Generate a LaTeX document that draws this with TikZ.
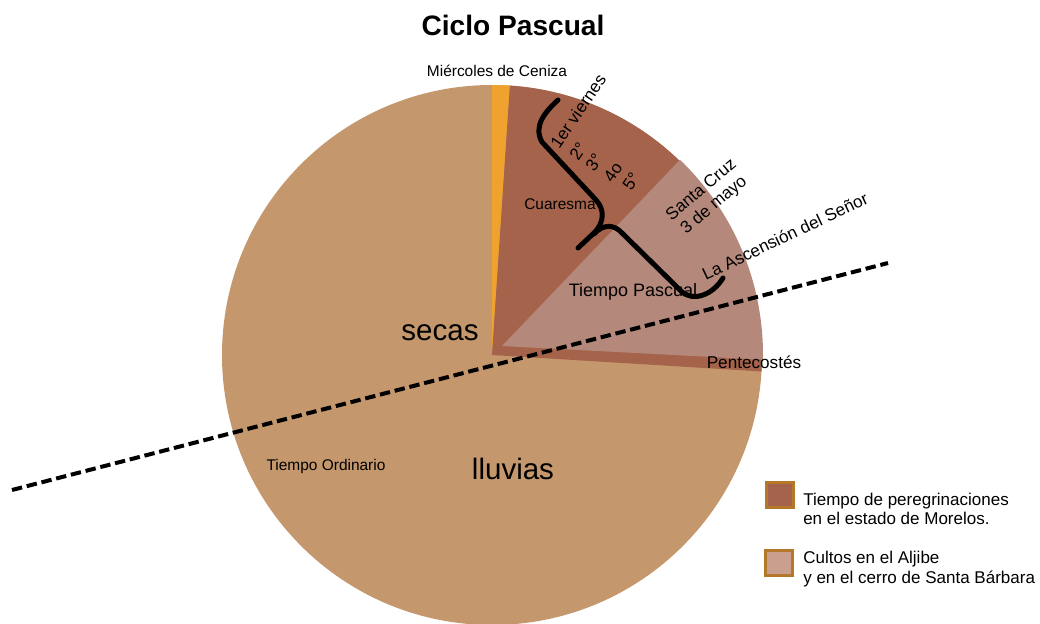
\documentclass[tikz,border=0pt]{standalone}
\usepackage{xcolor}
\usepackage{fontspec}
\setmainfont{Liberation Sans}
\usepackage{tikz}
\definecolor{ordinariocolor}{HTML}{C4976D}
\definecolor{cuaresmacolor}{HTML}{A5634C}
\definecolor{pascualcolor}{HTML}{B4887A}
\definecolor{cenizacolor}{HTML}{F0A22E}
\definecolor{bordecolor}{HTML}{B5782A}
\definecolor{cultoscolor}{HTML}{CA9F8E}

\tikzset{
  etiqueta/.style={inner sep=0pt, font=\fontsize{12.2pt}{14pt}\selectfont},
  etiquetachica/.style={inner sep=0pt, font=\fontsize{11pt}{13pt}\selectfont},
  temporada/.style={inner sep=0pt, font=\fontsize{21pt}{24pt}\selectfont},
  llave/.style={line width=0.125cm, line cap=round, line join=round},
  divisoria/.style={line width=0.1cm, dash pattern=on 0.26cm off 0.12cm},
  cuadro/.style={draw=bordecolor, line width=0.075cm, minimum width=0.68cm, minimum height=0.63cm, inner sep=0pt},
  leyenda/.style={anchor=west, align=left, inner sep=0pt, font=\fontsize{12.1pt}{14pt}\selectfont}
}

\begin{document}
\begin{tikzpicture}[x=0.025cm, y=0.025cm]
\useasboundingbox (0,0) rectangle (1040,-624);
% pastel
\coordinate (centro) at (492,-355);
\coordinate (vertice) at (502,-346);
\fill[ordinariocolor] (centro) circle[radius=270];
\fill[cenizacolor] (centro) -- ++(86.2:270) arc[start angle=86.2, end angle=90, radius=270] -- cycle;
\fill[cuaresmacolor] (centro) -- ++(-3.5:270) arc[start angle=-3.5, end angle=86.2, radius=270] -- cycle;
\begin{scope}
  \clip (centro) circle[radius=271];
  \fill[pascualcolor] (vertice) -- ++(-3:262) arc[start angle=-3, end angle=46.3, radius=262] -- cycle;
\end{scope}
% llaves
\draw[llave] (558,-100) .. controls (545,-112) and (533,-126) .. (542,-142) -- (596,-200) .. controls (605,-210) and (604,-222) .. (595,-232) -- (578,-248);
\draw[llave] (594,-234) .. controls (603,-224) and (614,-224) .. (622,-233) -- (681,-291) .. controls (692,-302) and (712,-296) .. (723,-278);
% linea secas / lluvias
\coordinate (oeste) at (12,-490);
\coordinate (este) at (888,-263);
\draw[divisoria] (oeste) -- (este);
% textos
\node[font=\fontsize{20pt}{24pt}\selectfont\bfseries, inner sep=0pt] (titulo) at (513,-25) {Ciclo Pascual};
\node[etiquetachica] (ceniza) at (497,-71) {Miércoles de Ceniza};
\node[etiqueta, rotate=56] (viernes1) at (578,-111) {1er viernes};
\node[etiqueta, rotate=56] (viernes2) at (578,-151) {2°};
\node[etiqueta, rotate=56] (viernes3) at (594,-162) {3°};
\node[etiqueta, rotate=56] (viernes4) at (613,-172) {4o};
\node[etiqueta, rotate=56] (viernes5) at (631,-181) {5°};
\node[etiquetachica] (cuaresma) at (560,-204) {Cuaresma};
\node[etiqueta, rotate=40, align=center] (cruz) at (708,-198) {Santa Cruz\\3 de mayo};
\node[etiqueta, rotate=25.5] (ascension) at (785,-236) {La Ascensión del Señor};
\node[etiqueta, font=\fontsize{12.8pt}{14pt}\selectfont] (pascual) at (633,-292) {Tiempo Pascual};
\node[etiqueta] (pentecostes) at (754,-362) {Pentecostés};
\node[temporada] (secas) at (440,-333) {secas};
\node[temporada] (lluvias) at (513,-469) {lluvias};
\node[etiquetachica] (ordinario) at (326,-466) {Tiempo Ordinario};
% leyenda
\node[cuadro, fill=cuaresmacolor] (cuadro1) at (780,-495) {};
\node[leyenda] (leyenda1) at (803,-509) {Tiempo de peregrinaciones\\en el estado de Morelos.};
\node[cuadro, fill=cultoscolor] (cuadro2) at (779,-563) {};
\node[leyenda] (leyenda2) at (803,-569) {Cultos en el Aljibe\\y en el cerro de Santa Bárbara};
\end{tikzpicture}
\end{document}
